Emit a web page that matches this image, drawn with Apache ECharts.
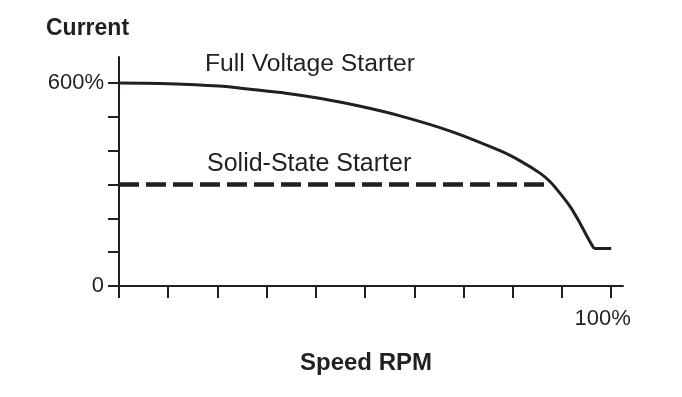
<!DOCTYPE html>
<html>
<head>
<meta charset="utf-8">
<script src="https://cdn.jsdelivr.net/npm/echarts@6/dist/echarts.min.js"></script>
<style>
  html, body { margin: 0; padding: 0; background: #fff; }
  #Echarts1 { width: 682px; height: 397px; }
</style>
</head>
<body>
<div id="Echarts1"></div>
<script>
'use strict';
// 转速 (%) / 电流 (%)
var fullSpeed = [0, 10.2, 20.3, 27, 33.9, 40.7, 48.8, 57.1, 67.3, 77.4, 81.5, 85.6, 87.6, 89.6, 91.7, 93.7, 95.3, 96.5];
var fullCurrent = [600, 598, 591, 581, 570, 555, 532, 503, 458, 400, 370, 333, 308, 274, 234, 185, 141, 111];
var tailSpeed = [96.5, 100];
var tailCurrent = [111, 111];
var solidSpeed = [0, 87.4];
var solidCurrent = [300, 300];
var xTicks = [0, 10, 20, 30, 40, 50, 60, 70, 80, 90, 100];
var xLabels = [100];
var yTicks = [0, 100, 200, 300, 400, 500, 600];
var yLabels = [0, 600];

var ink = '#231f20';
var myChart1 = echarts.init(document.getElementById('Echarts1'));

function pairs(xs, ys) {
    return xs.map(function (x, i) { return [x, ys[i]]; });
}

var option = {
    animation: false,
    grid: { left: 119, right: 59, top: 57, bottom: 111 },
    xAxis: {
        type: 'value',
        min: 0,
        max: 102.4,
        splitLine: { show: false },
        axisLine: { lineStyle: { color: ink, width: 2 } },
        axisTick: { customValues: xTicks, length: 12, lineStyle: { color: ink, width: 2 } },
        axisLabel: {
            customValues: xLabels,
            formatter: '{value}%',
            margin: 22,
            padding: [0, 17, 0, 0],
            color: ink,
            fontFamily: 'Liberation Sans',
            fontSize: 22
        }
    },
    yAxis: {
        type: 'value',
        min: 0,
        max: 677,
        splitLine: { show: false },
        axisLine: { show: true, lineStyle: { color: ink, width: 2 } },
        axisTick: { show: true, customValues: yTicks, length: 11, lineStyle: { color: ink, width: 2 } },
        axisLabel: {
            customValues: yLabels,
            formatter: function (v) { return v === 600 ? '600%' : '0'; },
            margin: 15,
            color: ink,
            fontFamily: 'Liberation Sans',
            fontSize: 22
        }
    },
    graphic: [
        { type: 'text', left: 46, top: 17, style: { text: 'Current', fill: ink, font: 'bold 23px "Liberation Sans"' } },
        { type: 'text', left: 300, top: 351, style: { text: 'Speed RPM', fill: ink, font: 'bold 24px "Liberation Sans"' } },
        { type: 'text', left: 205, top: 52, style: { text: 'Full Voltage Starter', fill: ink, font: '24.7px "Liberation Sans"' } },
        { type: 'text', left: 207, top: 152, style: { text: 'Solid-State Starter', fill: ink, font: '25px "Liberation Sans"' } }
    ],
    series: [
        {
            name: 'Full Voltage Starter',
            type: 'line',
            smooth: 0.3,
            showSymbol: false,
            lineStyle: { color: ink, width: 3 },
            data: pairs(fullSpeed, fullCurrent)
        },
        {
            name: 'Full Voltage Tail',
            type: 'line',
            showSymbol: false,
            lineStyle: { color: ink, width: 3 },
            data: pairs(tailSpeed, tailCurrent)
        },
        {
            name: 'Solid-State Starter',
            type: 'line',
            showSymbol: false,
            lineStyle: { color: ink, width: 4.5, type: [20, 7] },
            data: pairs(solidSpeed, solidCurrent)
        }
    ]
};
myChart1.setOption(option);
</script>
</body>
</html>
